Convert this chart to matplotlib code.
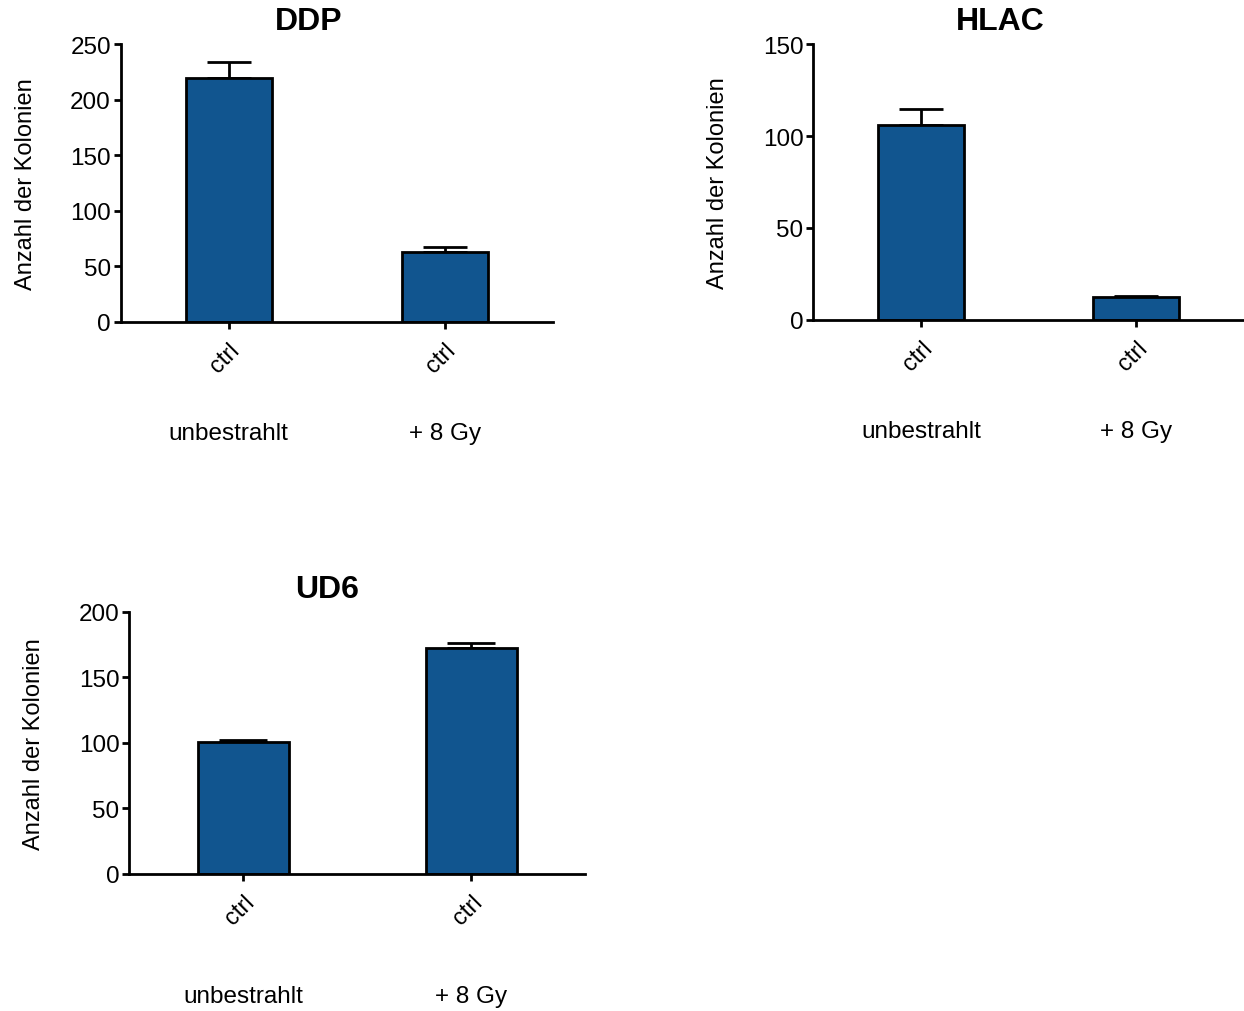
import matplotlib
matplotlib.use("Agg")
import matplotlib.pyplot as plt

plt.rcParams.update({
    "font.family": ["Liberation Sans", "DejaVu Sans"],
    "axes.linewidth": 2.0,
    "xtick.major.width": 2.0,
    "ytick.major.width": 2.0,
    "xtick.major.size": 5,
    "ytick.major.size": 5,
    "xtick.labelsize": 17,
    "ytick.labelsize": 17.5,
})

# colony counts per cell line (mean, upper SEM)
groups = ["unbestrahlt", "+ 8 Gy"]
tick_labels = ["ctrl", "ctrl"]

ddp_mean = [220, 63]
ddp_err = [14, 4]
hlac_mean = [106, 12.5]
hlac_err = [8.5, 0.6]
ud6_mean = [101, 172.5]
ud6_err = [1.5, 4]

BLUE = "#11558f"
W, H = 1244, 1012

# (name, means, errors, ymax, ystep, rect in pixels [l, top, r, bottom],
#  group label offset in points, capsize)
panels = [
    ("DDP", ddp_mean, ddp_err, 250, 50, (120.7, 45.3, 553, 322.7), 80, 16),
    ("HLAC", hlac_mean, hlac_err, 150, 50, (813.3, 45.3, 1244, 320.7), 80, 16),
    ("UD6", ud6_mean, ud6_err, 200, 50, (129.3, 612.7, 585, 875), 88, 17),
]

fig = plt.figure(figsize=(W / 100, H / 100), dpi=100)

for name, mean, err, ymax, ystep, (l, t, r, b), goff, cap in panels:
    ax = fig.add_axes([l / W, 1 - b / H, (r - l) / W, (b - t) / H])
    x = range(len(mean))
    ax.bar(x, mean, width=0.4, color=BLUE, edgecolor="black",
           linewidth=2.0, zorder=2)
    ax.errorbar(x, mean, yerr=[[0] * len(err), err], fmt="none",
                ecolor="black", elinewidth=2.0, capsize=cap,
                capthick=2.0, zorder=1)
    ax.set_xlim(-0.5, 1.5)
    ax.set_ylim(0, ymax)
    ax.set_yticks(range(0, ymax + 1, ystep))
    ax.set_xticks(list(x))
    ax.set_xticklabels(tick_labels, rotation=45, ha="right",
                       rotation_mode="anchor")
    ax.tick_params(axis="x", pad=7)
    ax.tick_params(axis="y", pad=2)
    ax.spines["top"].set_visible(False)
    ax.spines["right"].set_visible(False)
    ax.spines["left"].set_bounds(0, ymax)
    ax.set_ylabel("Anzahl der Kolonien", fontsize=17, labelpad=24)
    ax.annotate(name, xy=(0.37, 1), xycoords=("data", "axes fraction"),
                xytext=(0, 16.5), textcoords="offset points",
                ha="center", va="center", fontsize=23, fontweight="bold")
    for i, g in enumerate(groups):
        ax.annotate(g, xy=(i, 0), xycoords=("data", "axes fraction"),
                    xytext=(0, -goff), textcoords="offset points",
                    ha="center", va="center", fontsize=17.5)

fig.savefig("out.png", dpi=100)
